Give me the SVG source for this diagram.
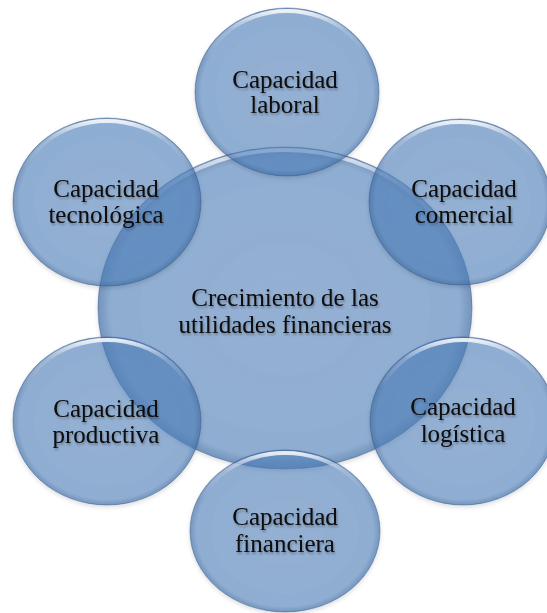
<svg xmlns="http://www.w3.org/2000/svg" width="547" height="613" viewBox="0 0 547 613">
<defs>
<linearGradient id="hl" x1="0" y1="0" x2="0" y2="1">
<stop offset="0" stop-color="#ffffff" stop-opacity="0.85"/>
<stop offset="0.12" stop-color="#dfeaf7" stop-opacity="0.3"/>
<stop offset="0.3" stop-color="#ffffff" stop-opacity="0"/>
<stop offset="1" stop-color="#ffffff" stop-opacity="0"/>
</linearGradient>
<radialGradient id="body" cx="0.5" cy="0.5" r="0.5">
<stop offset="0" stop-color="#4F81BD" stop-opacity="0.55"/>
<stop offset="0.93" stop-color="#4F81BD" stop-opacity="0.57"/>
<stop offset="1" stop-color="#3f6ca6" stop-opacity="0.68"/>
</radialGradient>
<filter id="sh" x="-10%" y="-10%" width="120%" height="125%">
<feDropShadow dx="0" dy="2" stdDeviation="2" flood-color="#000" flood-opacity="0.2"/>
</filter>
<filter id="tsh" x="-10%" y="-10%" width="120%" height="130%">
<feDropShadow dx="1" dy="2" stdDeviation="1" flood-color="#000" flood-opacity="0.3"/>
</filter>
</defs>
<style>
.b{fill:url(#body);stroke:#2f5486;stroke-opacity:0.45;stroke-width:1;filter:url(#sh)}
.h{fill:none;stroke:url(#hl);stroke-width:4}
.t{font-family:"Liberation Serif","Times New Roman",serif;font-size:25px;fill:#0a0a0a;text-anchor:middle;filter:url(#tsh)}
</style>
<g id="central">
<ellipse class="b" cx="285" cy="308" rx="187" ry="161"/>
<ellipse class="h" cx="285" cy="308" rx="184" ry="158"/>
<text class="t" x="285" y="306">Crecimiento de las</text>
<text class="t" x="285" y="333">utilidades financieras</text>
</g>
<g id="laboral">
<ellipse class="b" cx="287" cy="92" rx="92" ry="84"/>
<ellipse class="h" cx="287" cy="92" rx="89" ry="81"/>
<text class="t" x="285" y="88">Capacidad</text>
<text class="t" x="285" y="113">laboral</text>
</g>
<g id="comercial">
<ellipse class="b" cx="460" cy="202" rx="91" ry="83"/>
<ellipse class="h" cx="460" cy="202" rx="88" ry="80"/>
<text class="t" x="464" y="197">Capacidad</text>
<text class="t" x="464" y="223">comercial</text>
</g>
<g id="logistica">
<ellipse class="b" cx="463" cy="421" rx="93" ry="84"/>
<ellipse class="h" cx="463" cy="421" rx="90" ry="81"/>
<text class="t" x="463" y="415">Capacidad</text>
<text class="t" x="463" y="442">logística</text>
</g>
<g id="financiera">
<ellipse class="b" cx="285" cy="531" rx="95" ry="81"/>
<ellipse class="h" cx="285" cy="531" rx="92" ry="78"/>
<text class="t" x="285" y="525">Capacidad</text>
<text class="t" x="285" y="552">financiera</text>
</g>
<g id="productiva">
<ellipse class="b" cx="107" cy="421" rx="94" ry="84"/>
<ellipse class="h" cx="107" cy="421" rx="91" ry="81"/>
<text class="t" x="106" y="417">Capacidad</text>
<text class="t" x="106" y="443">productiva</text>
</g>
<g id="tecnologica">
<ellipse class="b" cx="107" cy="202" rx="94" ry="84"/>
<ellipse class="h" cx="107" cy="202" rx="91" ry="81"/>
<text class="t" x="106" y="197">Capacidad</text>
<text class="t" x="106" y="223">tecnológica</text>
</g>
</svg>
